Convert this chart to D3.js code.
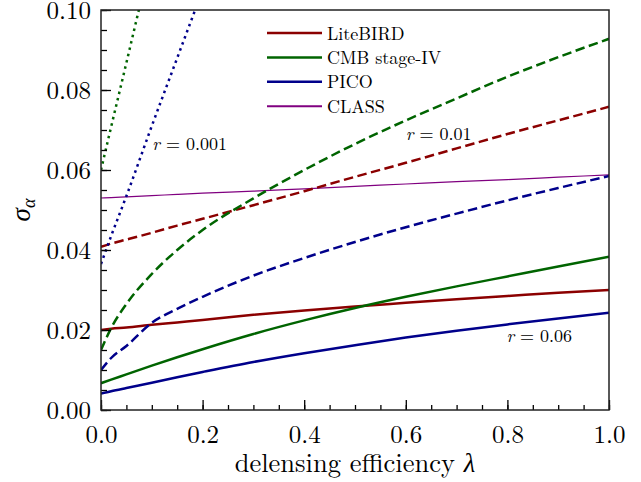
<!DOCTYPE html>
<html>
<head>
<meta charset="utf-8">
<script src="https://cdn.jsdelivr.net/npm/d3@7"></script>
<style>
  body { margin: 0; background: #fff; }
</style>
</head>
<body>
<svg id="chart" width="641" height="482"></svg>
<script>
// delensing efficiency grid
var lambda = [0, 0.02, 0.05, 0.1, 0.15, 0.2, 0.3, 0.4, 0.5, 0.6, 0.7, 0.8, 0.9, 1.0];

// r = 0.06 (solid)
var litebirdR006 = [0.0200, 0.0203, 0.0206, 0.0213, 0.0219, 0.0225, 0.0238, 0.0249, 0.0259, 0.0268, 0.0277, 0.0285, 0.0293, 0.0300];
var s4R006       = [0.0067, 0.0076, 0.0089, 0.0111, 0.0132, 0.0152, 0.0190, 0.0224, 0.0255, 0.0283, 0.0309, 0.0334, 0.0359, 0.0383];
var picoR006     = [0.0041, 0.0047, 0.0055, 0.0068, 0.0082, 0.0095, 0.0120, 0.0142, 0.0162, 0.0181, 0.0198, 0.0214, 0.0229, 0.0243];

// r = 0.01 (dashed)
var litebirdR001 = [0.0408, 0.0416, 0.0426, 0.0443, 0.0461, 0.0478, 0.0512, 0.0547, 0.0583, 0.0618, 0.0654, 0.0690, 0.0724, 0.0758];
var s4R001       = [0.0150, 0.0205, 0.0265, 0.0340, 0.0400, 0.0450, 0.0529, 0.0600, 0.0665, 0.0724, 0.0779, 0.0833, 0.0882, 0.0928];
var picoR001     = [0.0100, 0.0130, 0.0160, 0.0218, 0.0253, 0.0283, 0.0336, 0.0380, 0.0420, 0.0457, 0.0491, 0.0524, 0.0555, 0.0585];

// r = 0.001 (dotted), run off the top of the plot
var lambdaS4Dot   = [0, 0.02, 0.05, 0.08];
var s4R0001       = [0.0600, 0.0708, 0.0868, 0.1030];
var lambdaPicoDot = [0, 0.02, 0.05, 0.1, 0.15, 0.2];
var picoR0001     = [0.0365, 0.0435, 0.0535, 0.0710, 0.0880, 0.1050];

// CLASS
var classVals = [0.0530, 0.0531, 0.0533, 0.0536, 0.0539, 0.0542, 0.0547, 0.0553, 0.0559, 0.0565, 0.0571, 0.0576, 0.0582, 0.0588];

var xTicks = [0, 0.2, 0.4, 0.6, 0.8, 1.0];
var yTicks = [0, 0.02, 0.04, 0.06, 0.08, 0.10];
var legendNames = ['LiteBIRD', 'CMB stage-IV', 'PICO', 'CLASS'];

var colors = { litebird: '#8b0000', s4: '#006400', pico: '#00008b', cls: '#800080' };
var FONT = "'Latin Modern Roman', 'Liberation Serif', serif";

var svg = d3.select('#chart'),
    margin = { top: 10, right: 32, bottom: 72, left: 101 },
    width = +svg.attr('width') - margin.left - margin.right,
    height = +svg.attr('height') - margin.top - margin.bottom;

var x = d3.scaleLinear().domain([0, 1]).range([0, width]);
var y = d3.scaleLinear().domain([0, 0.1]).range([height, 0]);

var g = svg.append('g').attr('transform', 'translate(' + margin.left + ',' + margin.top + ')');

svg.append('clipPath').attr('id', 'clip')
   .append('rect').attr('width', width).attr('height', height);

var line = d3.line()
             .x(function(d) { return x(d[0]); })
             .y(function(d) { return y(d[1]); })
             .curve(d3.curveMonotoneX);

var series = [
  { xs: lambda, ys: classVals, c: colors.cls, w: 1.2, dash: null },
  { xs: lambda, ys: litebirdR006, c: colors.litebird, w: 2.5, dash: null },
  { xs: lambda, ys: s4R006, c: colors.s4, w: 2.5, dash: null },
  { xs: lambda, ys: picoR006, c: colors.pico, w: 2.5, dash: null },
  { xs: lambda, ys: litebirdR001, c: colors.litebird, w: 2.5, dash: '9.5,4.5' },
  { xs: lambda, ys: s4R001, c: colors.s4, w: 2.5, dash: '9.5,4.5' },
  { xs: lambda, ys: picoR001, c: colors.pico, w: 2.5, dash: '9.5,4.5' },
  { xs: lambdaS4Dot, ys: s4R0001, c: colors.s4, w: 2.5, dash: '2.5,4' },
  { xs: lambdaPicoDot, ys: picoR0001, c: colors.pico, w: 2.5, dash: '2.5,4' }
];

var plot = g.append('g').attr('clip-path', 'url(#clip)');
plot.selectAll('path')
    .data(series)
    .enter().append('path')
      .attr('fill', 'none')
      .attr('stroke', function(d) { return d.c; })
      .attr('stroke-width', function(d) { return d.w; })
      .attr('stroke-dasharray', function(d) { return d.dash; })
      .attr('d', function(d) { return line(d3.zip(d.xs, d.ys)); });

// axes, ticks point inward
var xMinor = d3.range(0, 1.0001, 0.05);
var yMinor = d3.range(0, 0.10001, 0.005);

g.append('g')
   .attr('transform', 'translate(0,' + height + ')')
   .call(d3.axisBottom(x).tickValues(xMinor).tickSize(-5).tickFormat(''))
   .call(function(a) { a.select('.domain').remove(); });
g.append('g')
   .call(d3.axisLeft(y).tickValues(yMinor).tickSize(-6).tickFormat(''))
   .call(function(a) { a.select('.domain').remove(); });

var xAxis = g.append('g')
   .attr('transform', 'translate(0,' + height + ')')
   .call(d3.axisBottom(x).tickValues(xTicks).tickSize(-10).tickPadding(15).tickFormat(d3.format('.1f')));
var yAxis = g.append('g')
   .call(d3.axisLeft(y).tickValues(yTicks).tickSize(-10).tickPadding(10).tickFormat(d3.format('.2f')));

[xAxis, yAxis].forEach(function(a) {
  a.select('.domain').remove();
  a.selectAll('text').style('font-family', FONT).style('font-size', '25px').attr('fill', '#000');
});
g.selectAll('.tick line').attr('stroke', '#000').attr('stroke-width', 1.3);

g.append('rect')
   .attr('width', width).attr('height', height)
   .attr('fill', 'none').attr('stroke', '#222').attr('stroke-width', 1.5);

// axis labels
var xl = svg.append('text')
   .attr('x', margin.left + width / 2).attr('y', 472)
   .attr('text-anchor', 'middle')
   .style('font-family', FONT).style('font-size', '26.5px');
xl.append('tspan').text('delensing efficiency ');
xl.append('tspan').style('font-style', 'italic').text('λ');

var yl = svg.append('text')
   .attr('transform', 'translate(30,' + (margin.top + height / 2) + ') rotate(-90)')
   .attr('text-anchor', 'middle')
   .style('font-family', FONT).style('font-size', '27px');
yl.append('tspan').style('font-style', 'italic').text('σ');
yl.append('tspan').style('font-style', 'italic').style('font-size', '18px').attr('dy', 5).text('α');

// r annotations
var notes = [
  { t: '0.001', px: 0.101, py: 0.065 },
  { t: '0.01', px: 0.6, py: 0.0675 },
  { t: '0.06', px: 0.798, py: 0.017 }
];
notes.forEach(function(n) {
  var t = g.append('text')
     .attr('x', x(n.px)).attr('y', y(n.py))
     .style('font-family', FONT).style('font-size', '18px');
  t.append('tspan').style('font-style', 'italic').text('r');
  t.append('tspan').text(' = ' + n.t);
});

// legend
var legend = g.append('g').attr('transform', 'translate(166,23)');
var legendColors = [colors.litebird, colors.s4, colors.pico, colors.cls];
var items = legend.selectAll('g')
   .data(legendNames)
   .enter().append('g')
     .attr('transform', function(d, i) { return 'translate(0,' + (i * 24.4) + ')'; });
items.append('line')
   .attr('x1', 0).attr('x2', 55)
   .attr('stroke', function(d, i) { return legendColors[i]; })
   .attr('stroke-width', function(d, i) { return i === 3 ? 2 : 2.5; });
items.append('text')
   .attr('x', 60).attr('y', 6.5)
   .style('font-family', FONT).style('font-size', '18px')
   .text(function(d) { return d; });
</script>
</body>
</html>
